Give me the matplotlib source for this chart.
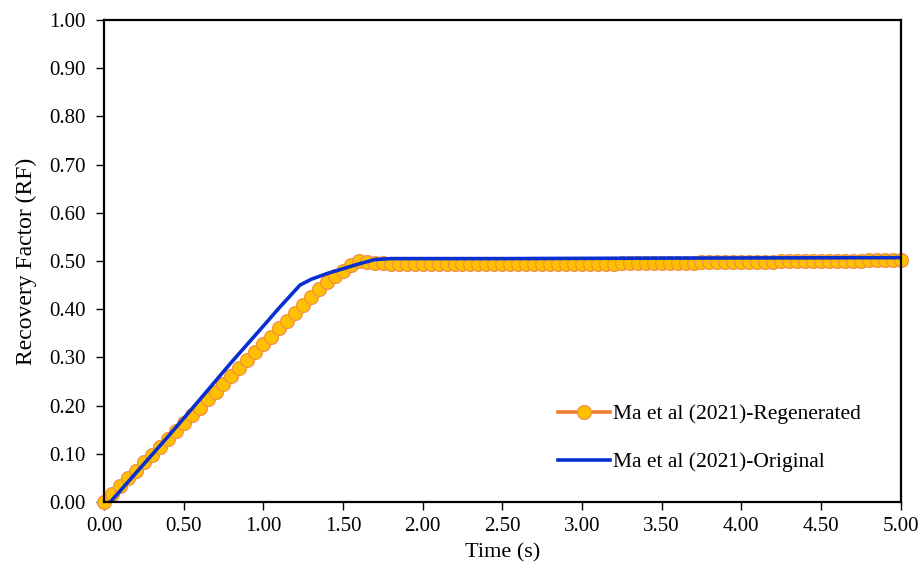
import numpy as np
import matplotlib
matplotlib.use("Agg")
import matplotlib.pyplot as plt

plt.rcParams['font.family'] = ['Liberation Serif', 'DejaVu Serif']

# Ma et al (2021) - regenerated (sampled every 0.05 s)
time_regen = [0.00, 0.05, 0.10, 0.15, 0.20, 0.25, 0.30, 0.35, 0.40, 0.45,
              0.50, 0.55, 0.60, 0.65, 0.70, 0.75, 0.80, 0.85, 0.90, 0.95,
              1.00, 1.05, 1.10, 1.15, 1.20, 1.25, 1.30, 1.35, 1.40, 1.45,
              1.50, 1.55, 1.60, 1.65, 1.70, 1.75, 1.80, 1.85, 1.90, 1.95,
              2.00, 2.05, 2.10, 2.15, 2.20, 2.25, 2.30, 2.35, 2.40, 2.45,
              2.50, 2.55, 2.60, 2.65, 2.70, 2.75, 2.80, 2.85, 2.90, 2.95,
              3.00, 3.05, 3.10, 3.15, 3.20, 3.25, 3.30, 3.35, 3.40, 3.45,
              3.50, 3.55, 3.60, 3.65, 3.70, 3.75, 3.80, 3.85, 3.90, 3.95,
              4.00, 4.05, 4.10, 4.15, 4.20, 4.25, 4.30, 4.35, 4.40, 4.45,
              4.50, 4.55, 4.60, 4.65, 4.70, 4.75, 4.80, 4.85, 4.90, 4.95,
              5.00]
rf_regen = [0.000, 0.016, 0.033, 0.049, 0.065, 0.082, 0.098, 0.114, 0.131, 0.147,
            0.164, 0.180, 0.196, 0.213, 0.229, 0.245, 0.262, 0.278, 0.294, 0.311,
            0.327, 0.343, 0.360, 0.376, 0.392, 0.409, 0.425, 0.441, 0.456, 0.468,
            0.480, 0.492, 0.500, 0.498, 0.496, 0.495, 0.494, 0.494, 0.494, 0.494,
            0.494, 0.494, 0.494, 0.494, 0.494, 0.494, 0.494, 0.494, 0.494, 0.494,
            0.494, 0.494, 0.494, 0.494, 0.494, 0.494, 0.494, 0.494, 0.494, 0.494,
            0.494, 0.4942, 0.4944, 0.4946, 0.4948, 0.4950, 0.4952, 0.4954, 0.4956, 0.4958,
            0.4960, 0.4962, 0.4964, 0.4966, 0.4968, 0.4970, 0.4972, 0.4974, 0.4976, 0.4978,
            0.4980, 0.4982, 0.4984, 0.4986, 0.4988, 0.4990, 0.4992, 0.4994, 0.4996, 0.4998,
            0.5000, 0.5002, 0.5004, 0.5006, 0.5008, 0.5010, 0.5012, 0.5014, 0.5016, 0.5018,
            0.5020]

# Ma et al (2021) - original
time_orig = [0.04, 0.20, 0.40, 0.60, 0.80, 1.00, 1.10, 1.23, 1.30, 1.40,
             1.50, 1.60, 1.70, 1.80, 2.50, 3.50, 5.00]
rf_orig = [0.000, 0.060, 0.135, 0.212, 0.290, 0.365, 0.403, 0.450, 0.462, 0.474,
           0.484, 0.494, 0.503, 0.505, 0.505, 0.506, 0.507]

fig = plt.figure(figsize=(9.2, 5.63), dpi=100)
ax = fig.add_axes([0.113, 0.1083, 0.866, 0.8562])

ax.plot(time_regen, rf_regen, color='#ED7D31', linewidth=2.6, marker='o',
        markersize=10, markerfacecolor='#FFC000', markeredgecolor='#F0904A',
        markeredgewidth=0.9, label='Ma et al (2021)-Regenerated', zorder=2,
        clip_on=False)
ax.plot(time_orig, rf_orig, color='#0A2FD0', linewidth=2.6,
        label='Ma et al (2021)-Original', zorder=3)

ax.set_xlim(0, 5)
ax.set_ylim(0, 1)
ax.set_xticks(np.arange(0, 5.01, 0.5))
ax.set_yticks(np.arange(0, 1.01, 0.1))
ax.xaxis.set_major_formatter(matplotlib.ticker.FormatStrFormatter('%.2f'))
ax.yaxis.set_major_formatter(matplotlib.ticker.FormatStrFormatter('%.2f'))
ax.tick_params(direction='out', length=6, width=1, labelsize=15, colors='black')
ax.tick_params(axis='x', pad=5)
ax.tick_params(axis='y', pad=7)
for s in ax.spines.values():
    s.set_linewidth(1.6)
    s.set_color('black')
    s.set_zorder(4)

ax.set_xlabel('Time (s)', fontsize=16, labelpad=5)
ax.set_ylabel('Recovery Factor (RF)', fontsize=17, labelpad=9)

ax.legend(loc='upper left', bbox_to_anchor=(0.557, 0.225), frameon=False,
          fontsize=15.5, handlelength=2.4, labelspacing=1.3, numpoints=1,
          handletextpad=0.15, borderpad=0)

fig.savefig('out.png', dpi=100)
